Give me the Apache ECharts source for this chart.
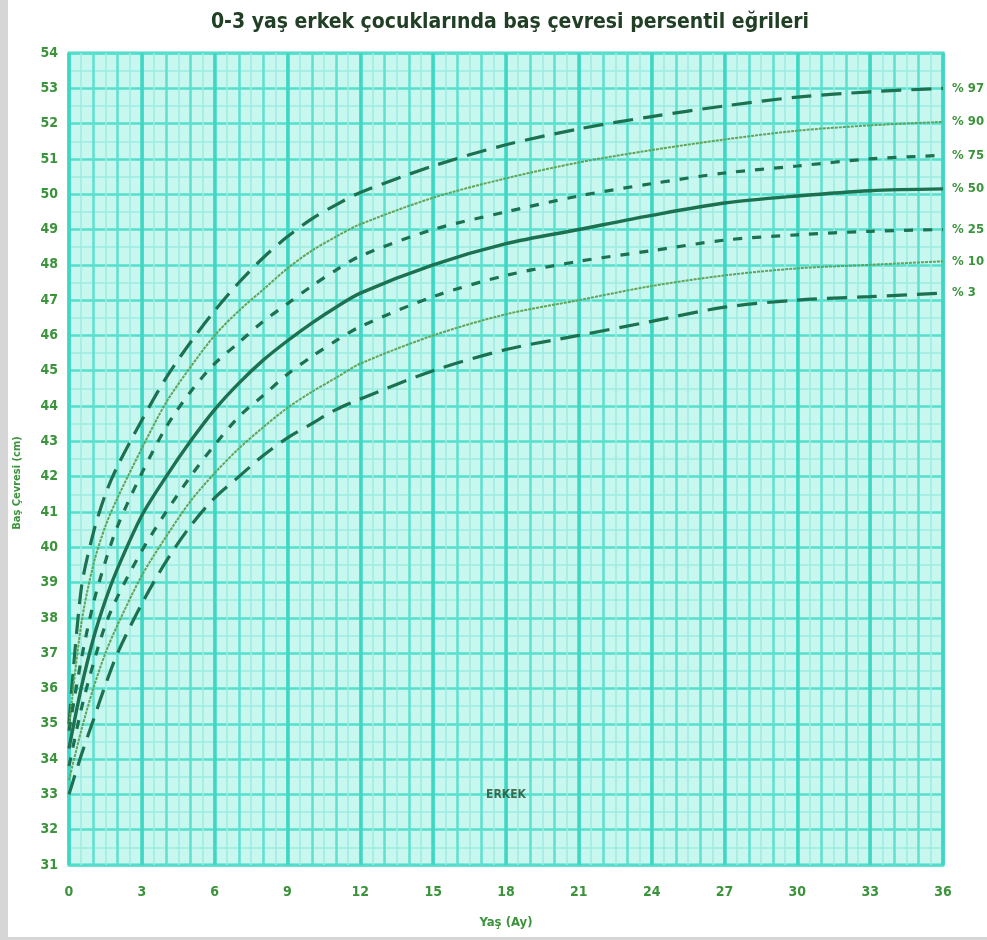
<!DOCTYPE html>
<html>
<head>
<meta charset="utf-8">
<script src="https://cdn.jsdelivr.net/npm/echarts@6/dist/echarts.min.js"></script>
<style>
  html, body { margin: 0; padding: 0; background: #ffffff; }
  #chart { width: 987px; height: 940px; }
</style>
</head>
<body>
<div id="chart"></div>
<script>
// Age in months at which each percentile value is given
const months = [0, 0.5, 1, 1.5, 2, 3, 4, 5, 6, 7, 8, 9, 10, 11, 12, 15, 18, 21, 24, 27, 30, 33, 36];

// Head circumference (cm) per percentile
const p97 = [35.0, 38.8, 40.4, 41.5, 42.3, 43.6, 44.8, 45.8, 46.7, 47.5, 48.2, 48.8, 49.3, 49.7, 50.05, 50.8, 51.4, 51.85, 52.2, 52.5, 52.75, 52.9, 53.0];
const p90 = [34.9, 37.8, 39.5, 40.6, 41.4, 42.8, 44.1, 45.1, 46.0, 46.7, 47.3, 47.9, 48.4, 48.8, 49.15, 49.9, 50.45, 50.9, 51.25, 51.55, 51.8, 51.95, 52.05];
const p75 = [34.8, 36.8, 38.4, 39.6, 40.6, 42.1, 43.4, 44.4, 45.2, 45.8, 46.4, 46.9, 47.4, 47.85, 48.25, 49.0, 49.5, 49.95, 50.3, 50.6, 50.8, 51.0, 51.1];
const p50 = [34.3, 36.0, 37.4, 38.5, 39.4, 40.9, 42.0, 43.0, 43.9, 44.65, 45.3, 45.85, 46.35, 46.8, 47.2, 48.0, 48.6, 49.0, 49.4, 49.75, 49.95, 50.1, 50.15];
const p25 = [33.8, 35.4, 36.7, 37.8, 38.6, 39.9, 41.0, 42.0, 42.9, 43.7, 44.3, 44.9, 45.4, 45.85, 46.25, 47.1, 47.7, 48.1, 48.4, 48.7, 48.85, 48.95, 49.0];
const p10 = [33.4, 34.8, 36.0, 37.0, 37.8, 39.2, 40.3, 41.3, 42.1, 42.8, 43.4, 43.95, 44.4, 44.8, 45.2, 46.0, 46.6, 47.0, 47.4, 47.7, 47.9, 48.0, 48.1];
const p3  = [33.0, 34.1, 35.1, 36.1, 37.0, 38.4, 39.6, 40.6, 41.4, 42.0, 42.6, 43.1, 43.5, 43.9, 44.2, 45.0, 45.6, 46.0, 46.4, 46.8, 47.0, 47.1, 47.2];

const percentileLabels = ['% 97', '% 90', '% 75', '% 50', '% 25', '% 10', '% 3'];

// Axis ranges and tick spacing
const xMin = 0, xMax = 36, xStep = 3;
const yMin = 31, yMax = 54, yStep = 1;

const chartTitle = '0-3 yaş erkek çocuklarında baş çevresi persentil eğrileri';
const xName = 'Yaş (Ay)';
const yName = 'Baş Çevresi (cm)';
const sexLabel = 'ERKEK';
const sexLabelPos = [18, 33];

const FONT = "'Liberation Sans Narrow', 'DejaVu Sans Condensed', 'Roboto', sans-serif";
const DARK = '#1c7150';
const THIN = '#5fa45a';
const LABEL = '#3b933b';

const styles = [
  { color: DARK, width: 3.2, type: [20, 10] },  // 97
  { color: THIN, width: 2,   type: [3, 1] },    // 90
  { color: DARK, width: 3.2, type: [9, 10] },   // 75
  { color: DARK, width: 3.4, type: 'solid' },   // 50
  { color: DARK, width: 3.2, type: [9, 10] },   // 25
  { color: THIN, width: 2,   type: [3, 1] },    // 10
  { color: DARK, width: 3.2, type: [20, 10] }   // 3
];

const curves = [p97, p90, p75, p50, p25, p10, p3];

const lineSeries = curves.map((vals, k) => ({
  type: 'line',
  name: percentileLabels[k],
  xAxisIndex: 1,
  yAxisIndex: 0,
  data: months.map((m, i) => [m, vals[i]]),
  smooth: 0.3,
  showSymbol: false,
  silent: true,
  lineStyle: styles[k],
  endLabel: {
    show: true,
    formatter: percentileLabels[k],
    distance: 9,
    color: LABEL,
    fontFamily: FONT,
    fontWeight: 'bold',
    fontSize: 13
  },
  z: 5
}));

const chart = echarts.init(document.getElementById('chart'), null, { renderer: 'canvas' });

chart.setOption({
  backgroundColor: '#ffffff',
  animation: false,
  title: {
    text: chartTitle,
    left: 505,
    textAlign: 'center',
    top: 7,
    textStyle: { color: '#213f24', fontFamily: FONT, fontWeight: 'bold', fontSize: 21 }
  },
  grid: {
    left: 69, right: 44, top: 53, bottom: 75,
    show: true,
    backgroundColor: '#c8f7ef',
    borderColor: '#43dac6',
    borderWidth: 3
  },
  xAxis: [
    {
      // monthly and half-month rulings
      type: 'value', position: 'top', min: xMin, max: xMax, interval: 1,
      axisLine: { show: false }, axisTick: { show: false }, axisLabel: { show: false },
      splitLine: { show: true, lineStyle: { color: '#5ee0cf', width: 2.5 } },
      minorTick: { show: false, splitNumber: 2 },
      minorSplitLine: { show: true, lineStyle: { color: '#9cede2', width: 1.5 } }
    },
    {
      type: 'value', position: 'bottom', min: xMin, max: xMax, interval: xStep,
      name: xName, nameLocation: 'middle', nameGap: 51,
      nameTextStyle: { color: LABEL, fontFamily: FONT, fontWeight: 'bold', fontSize: 13 },
      axisLine: { show: false }, axisTick: { show: false },
      axisLabel: { color: LABEL, fontFamily: FONT, fontWeight: 'bold', fontSize: 14, margin: 20 },
      splitLine: { show: true, lineStyle: { color: '#3fd7c3', width: 3.5 } }
    }
  ],
  yAxis: [
    {
      type: 'value', min: yMin, max: yMax, interval: yStep,
      axisLine: { show: false }, axisTick: { show: false },
      axisLabel: { color: LABEL, fontFamily: FONT, fontWeight: 'bold', fontSize: 14, margin: 11 },
      splitLine: { show: true, lineStyle: { color: '#55dfcc', width: 2.5 } },
      minorTick: { show: false, splitNumber: 2 },
      minorSplitLine: { show: true, lineStyle: { color: '#9cede2', width: 1.5 } }
    }
  ],
  graphic: [
    { type: 'rect', shape: { x: 0, y: 0, width: 8, height: 940 }, style: { fill: '#d6d6d6' }, silent: true },
    { type: 'rect', shape: { x: 0, y: 937, width: 987, height: 3 }, style: { fill: '#d6d6d6' }, silent: true },
    {
      type: 'text', x: 17, y: 483, rotation: Math.PI / 2,
      style: { text: yName, fill: LABEL, font: 'bold 11px ' + FONT, textAlign: 'center', textVerticalAlign: 'middle' },
      silent: true
    }
  ],
  series: lineSeries.concat([{
    type: 'scatter',
    xAxisIndex: 1,
    yAxisIndex: 0,
    data: [sexLabelPos],
    symbolSize: 0,
    silent: true,
    label: {
      show: true, position: 'inside', formatter: sexLabel,
      color: '#1f4a2c', fontFamily: FONT, fontWeight: 'bold', fontSize: 12
    },
    z: 6
  }])
});
</script>
</body>
</html>
